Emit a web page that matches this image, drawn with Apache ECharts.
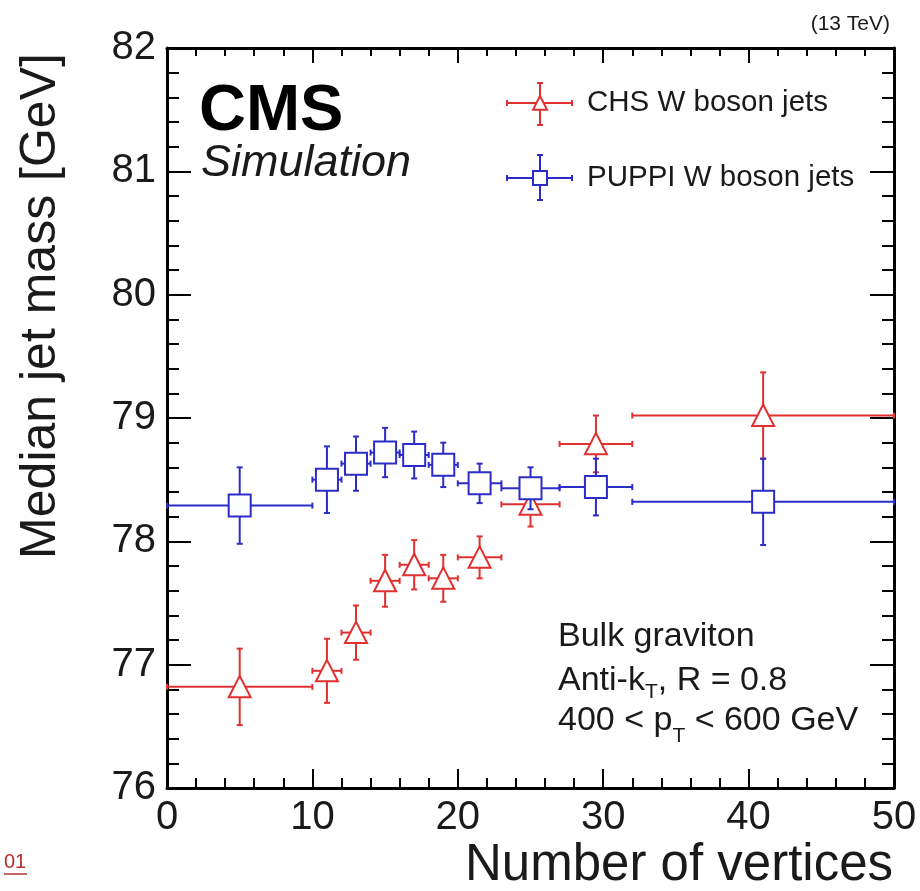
<!DOCTYPE html>
<html><head><meta charset="utf-8">
<script src="https://cdn.jsdelivr.net/npm/echarts@6/dist/echarts.min.js"></script>
<style>html,body{margin:0;padding:0;background:#fff}#c{width:920px;height:891px}</style>
</head><body><div id="c"></div>
<script>
// ---- data ----
const binCenters = [5, 11, 13, 15, 17, 19, 21.5, 25, 29.5, 41];
const binLow     = [0, 10, 12, 14, 16, 18, 20, 23, 27, 32];
const binHigh    = [10, 12, 14, 16, 18, 20, 23, 27, 32, 50];
const chsMedian   = [76.82, 76.95, 77.26, 77.68, 77.81, 77.70, 77.87, 78.30, 78.79, 79.02];
const chsErr      = [0.31, 0.26, 0.22, 0.21, 0.20, 0.19, 0.17, 0.18, 0.23, 0.35];
const puppiMedian = [78.29, 78.50, 78.63, 78.72, 78.70, 78.62, 78.47, 78.43, 78.44, 78.32];
const puppiErr    = [0.31, 0.27, 0.22, 0.20, 0.19, 0.18, 0.16, 0.17, 0.23, 0.35];
const xRange = [0, 50];
const yRange = [76, 82];

const RED = '#e03030';
const BLUE = '#2c2cc8';
const FONT = '"Liberation Sans", Arial, Helvetica, sans-serif';
const TXT = '#1a1a1a';

function marker(shape, cx, cy, s, color) {
  if (shape === 'tri') {
    return {type: 'polygon', shape: {points: [[cx, cy - s], [cx - s, cy + s * 0.95], [cx + s, cy + s * 0.95]]},
            style: {fill: '#fff', stroke: color, lineWidth: 2}};
  }
  return {type: 'rect', shape: {x: cx - s, y: cy - s, width: 2 * s, height: 2 * s},
          style: {fill: '#fff', stroke: color, lineWidth: 2}};
}
function errGroup(shape, color, cx, cy, xl, xh, yt, yb, s, cap) {
  const ls = {stroke: color, lineWidth: 2};
  return [
    {type: 'line', shape: {x1: xl, y1: cy, x2: xh, y2: cy}, style: ls},
    {type: 'line', shape: {x1: cx, y1: yt, x2: cx, y2: yb}, style: ls},
    {type: 'line', shape: {x1: xl, y1: cy - cap, x2: xl, y2: cy + cap}, style: ls},
    {type: 'line', shape: {x1: xh, y1: cy - cap, x2: xh, y2: cy + cap}, style: ls},
    {type: 'line', shape: {x1: cx - cap, y1: yt, x2: cx + cap, y2: yt}, style: ls},
    {type: 'line', shape: {x1: cx - cap, y1: yb, x2: cx + cap, y2: yb}, style: ls},
    marker(shape, cx, cy, s, color)
  ];
}
function makeRender(shape, color) {
  return function (params, api) {
    const xc = api.value(0), y = api.value(1), xl = api.value(2), xh = api.value(3), e = api.value(4);
    const c = api.coord([xc, y]);
    const pl = api.coord([xl, y]), ph = api.coord([xh, y]);
    const pt = api.coord([xc, y + e]), pb = api.coord([xc, y - e]);
    return {type: 'group', children: errGroup(shape, color, c[0], c[1], pl[0], ph[0], pt[1], pb[1], 11, 3)};
  };
}
function rows(vals, errs) {
  return binCenters.map((x, i) => [x, vals[i], binLow[i], binHigh[i], errs[i]]);
}

const axisCommon = {
  type: 'value',
  axisLine: {show: true, onZero: false, lineStyle: {color: '#000', width: 3}},
  splitLine: {show: false},
  minorSplitLine: {show: false}
};

const chart = echarts.init(document.getElementById('c'));
chart.setOption({
  animation: false,
  backgroundColor: '#fff',
  grid: {left: 167, top: 48, width: 727, height: 740},
  xAxis: [
    Object.assign({}, axisCommon, {
      position: 'bottom', min: xRange[0], max: xRange[1], interval: 10,
      axisTick: {inside: true, length: 19, lineStyle: {color: '#000', width: 2}},
      minorTick: {show: true, splitNumber: 5, length: 10, lineStyle: {color: '#000', width: 2}},
      axisLabel: {fontFamily: FONT, fontSize: 40, color: TXT, margin: 10}
    }),
    Object.assign({}, axisCommon, {
      position: 'top', min: xRange[0], max: xRange[1], interval: 10,
      axisTick: {inside: true, length: 15, lineStyle: {color: '#000', width: 2}},
      minorTick: {show: true, splitNumber: 5, length: 8, lineStyle: {color: '#000', width: 2}},
      axisLabel: {show: false}
    })
  ],
  yAxis: [
    Object.assign({}, axisCommon, {
      position: 'left', min: yRange[0], max: yRange[1], interval: 1,
      axisTick: {inside: true, length: 24, lineStyle: {color: '#000', width: 2}},
      minorTick: {show: true, splitNumber: 5, length: 12, lineStyle: {color: '#000', width: 2}},
      axisLabel: {fontFamily: FONT, fontSize: 40, color: TXT, margin: 11}
    }),
    Object.assign({}, axisCommon, {
      position: 'right', min: yRange[0], max: yRange[1], interval: 1,
      axisTick: {inside: true, length: 24, lineStyle: {color: '#000', width: 2}},
      minorTick: {show: true, splitNumber: 5, length: 12, lineStyle: {color: '#000', width: 2}},
      axisLabel: {show: false}
    })
  ],
  series: [
    {name: 'CHS W boson jets', type: 'custom', xAxisIndex: 0, yAxisIndex: 0,
     renderItem: makeRender('tri', RED), data: rows(chsMedian, chsErr), encode: {x: [0, 2, 3], y: 1}, z: 3},
    {name: 'PUPPI W boson jets', type: 'custom', xAxisIndex: 0, yAxisIndex: 0,
     renderItem: makeRender('sq', BLUE), data: rows(puppiMedian, puppiErr), encode: {x: [0, 2, 3], y: 1}, z: 4}
  ],
  graphic: [
    // axis titles
    {type: 'text', x: 41, y: 306, rotation: Math.PI / 2,
     style: {text: 'Median jet mass [GeV]', font: '50px ' + FONT, fill: TXT, textAlign: 'center', textVerticalAlign: 'middle'}},
    {type: 'text', x: 893, y: 866,
     style: {text: 'Number of vertices', font: '51px ' + FONT, fill: TXT, textAlign: 'right', textVerticalAlign: 'middle'}},
    {type: 'text', x: 890, y: 24,
     style: {text: '(13 TeV)', font: '21px ' + FONT, fill: TXT, textAlign: 'right', textVerticalAlign: 'middle'}},
    // CMS label
    {type: 'text', x: 199, y: 112,
     style: {text: 'CMS', font: 'bold 65px ' + FONT, fill: '#000', textAlign: 'left', textVerticalAlign: 'middle'}},
    {type: 'text', x: 201, y: 163,
     style: {text: 'Simulation', font: 'italic 45px ' + FONT, fill: TXT, textAlign: 'left', textVerticalAlign: 'middle'}},
    // legend
    {type: 'group', children: errGroup('tri', RED, 540, 103, 507, 572, 83, 125, 7, 3)},
    {type: 'text', x: 587, y: 103,
     style: {text: 'CHS W boson jets', font: '29.5px ' + FONT, fill: TXT, textAlign: 'left', textVerticalAlign: 'middle'}},
    {type: 'group', children: errGroup('sq', BLUE, 540, 178, 507, 572, 155, 200, 7, 3)},
    {type: 'text', x: 587, y: 178,
     style: {text: 'PUPPI W boson jets', font: '29.5px ' + FONT, fill: TXT, textAlign: 'left', textVerticalAlign: 'middle'}},
    // annotation
    {type: 'text', x: 558, y: 637,
     style: {text: 'Bulk graviton', font: '34px ' + FONT, fill: TXT, textAlign: 'left', textVerticalAlign: 'middle'}},
    {type: 'text', x: 558, y: 681,
     style: {text: '{n|Anti-k}{s|T}{n|, R = 0.8}', textAlign: 'left', textVerticalAlign: 'middle', fill: TXT,
       rich: {n: {fontFamily: FONT, fontSize: 34, lineHeight: 34, fill: TXT},
              s: {fontFamily: FONT, fontSize: 21, lineHeight: 22, padding: [22, 0, 0, 0], fill: TXT}}}},
    {type: 'text', x: 558, y: 721,
     style: {text: '{n|400 < p}{s|T}{n| < 600 GeV}', textAlign: 'left', textVerticalAlign: 'middle', fill: TXT,
       rich: {n: {fontFamily: FONT, fontSize: 34, lineHeight: 34, fill: TXT},
              s: {fontFamily: FONT, fontSize: 21, lineHeight: 22, padding: [30, 0, 0, 0], fill: TXT}}}},
    // page-corner link fragment
    {type: 'text', x: 4, y: 862,
     style: {text: '01', font: '20px ' + FONT, fill: '#b03030', textAlign: 'left', textVerticalAlign: 'middle'}},
    {type: 'line', shape: {x1: 4, y1: 874, x2: 27, y2: 874}, style: {stroke: '#b03030', lineWidth: 1.5}}
  ]
});
</script>
</body></html>
